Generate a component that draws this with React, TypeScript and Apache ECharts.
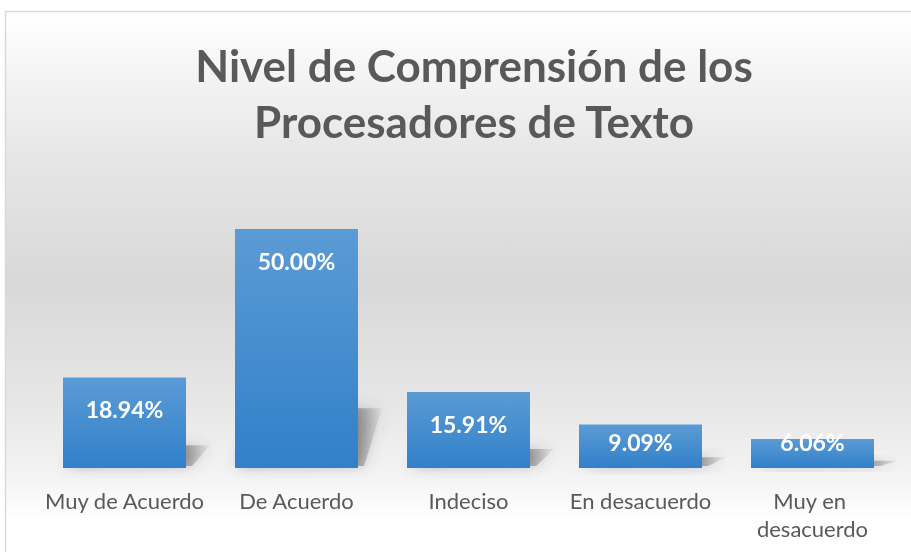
import React, { useEffect, useRef } from "react";
import * as echarts from "echarts";

const categories = ["Muy de Acuerdo", "De Acuerdo", "Indeciso", "En desacuerdo", "Muy en desacuerdo"];
const values = [18.94, 50.0, 15.91, 9.09, 6.06];
const titleText = "Nivel de Comprensión de los\nProcesadores de Texto";

const FONT = "Lato, 'Open Sans', sans-serif";

export default function App() {
  const ref = useRef<HTMLDivElement>(null);
  useEffect(() => {
    if (!ref.current) return;
    const chart = echarts.init(ref.current, null, { renderer: "svg" });
    const bg = new echarts.graphic.LinearGradient(
      0, 11, 0, 552,
      [
        { offset: 0, color: "#ffffff" },
        { offset: 0.02, color: "#fdfdfd" },
        { offset: 0.26, color: "#e7e7e7" },
        { offset: 0.5, color: "#d8d8d8" },
        { offset: 0.72, color: "#e6e6e6" },
        { offset: 0.87, color: "#f5f5f5" },
        { offset: 0.94, color: "#ffffff" },
        { offset: 1, color: "#ffffff" },
      ],
      true
    );
    const barFill = new echarts.graphic.LinearGradient(0, 0, 0, 1, [
      { offset: 0, color: "#5b9bd5" },
      { offset: 1, color: "#3180c9" },
    ]);
    const shadowFill = new echarts.graphic.LinearGradient(0, 0, 1, 0, [
      { offset: 0, color: "rgba(80,80,80,0.65)" },
      { offset: 0.8, color: "rgba(80,80,80,0.5)" },
      { offset: 1, color: "rgba(80,80,80,0.05)" },
    ]);
    const BAR_RATIO = 123 / 172;
    const base: any = {
      animation: false,
      graphic: [
        {
          type: "rect",
          z: -10,
          silent: true,
          shape: { x: 5.5, y: 11.5, width: 1000, height: 1000 },
          style: { fill: bg, stroke: "#d9d9d9", lineWidth: 1.5 },
        },
      ],
      title: {
        text: titleText,
        left: 469,
        textAlign: "center",
        top: 32,
        textStyle: {
          fontFamily: FONT,
          fontWeight: "bold",
          fontSize: 44,
          lineHeight: 56,
          color: "#595959",
        },
      },
      grid: { left: 38.5, right: 12.5, top: 229, bottom: 84, containLabel: false },
      xAxis: {
        type: "category",
        data: categories,
        axisLine: { show: false },
        axisTick: { show: false },
        axisLabel: {
          interval: 0,
          margin: 18,
          width: 170,
          overflow: "break",
          fontFamily: FONT,
          fontSize: 22,
          lineHeight: 28,
          color: "#595959",
        },
      },
      yAxis: { type: "value", min: 0, max: 50, show: false, splitLine: { show: false } },
      series: [
        {
          type: "custom",
          z: 1,
          silent: true,
          data: values.map((v, i) => [i, v]),
          renderItem: (params: any, api: any) => {
            const idx = api.value(0);
            const v = api.value(1);
            const top = api.coord([idx, v]);
            const bot = api.coord([idx, 0]);
            const w = api.size([1, 0])[0] * BAR_RATIO;
            const x0 = top[0] - w / 2;
            const x1 = top[0] + w / 2;
            const h = bot[1] - top[1];
            const sh = h * 0.25;
            const dx = 24;
            return {
              type: "polygon",
              shape: {
                points: [
                  [x0 + 2, bot[1] - 2],
                  [x1 + 6, bot[1] - 2],
                  [x1 + dx, bot[1] - sh],
                  [x0 + dx, bot[1] - sh],
                ],
              },
              style: {
                fill: shadowFill,
                shadowBlur: 14,
                shadowColor: "rgba(80,80,80,0.75)",
              },
            };
          },
        },
        {
          type: "bar",
          z: 2,
          barWidth: (BAR_RATIO * 100).toFixed(2) + "%",
          data: values,
          itemStyle: { color: barFill },
          label: {
            show: true,
            position: "insideTop",
            formatter: (p: any) => p.value.toFixed(2) + "%",
            fontFamily: FONT,
            fontWeight: "bold",
            fontSize: 23,
            color: "#ffffff",
          },
        },
      ],
    };
    chart.setOption(base);
    // Position labels like Excel "inside end": fixed offset from top, but kept up from baseline on short bars
    const basePx = chart.convertToPixel({ yAxisIndex: 0 }, 0) as number;
    const data = values.map((v) => {
      const topPx = chart.convertToPixel({ yAxisIndex: 0 }, v) as number;
      const h = basePx - topPx;
      const off = Math.min(32, h - 26);
      return {
        value: v,
        label: { position: ["50%", off], align: "center", verticalAlign: "middle" },
      };
    });
    chart.setOption({ series: [{}, { data }] });
    return () => chart.dispose();
  }, []);
  return (
    <div
      ref={ref}
      style={{ position: "fixed", left: 0, top: 0, width: 911, height: 552 }}
    />
  );
}
